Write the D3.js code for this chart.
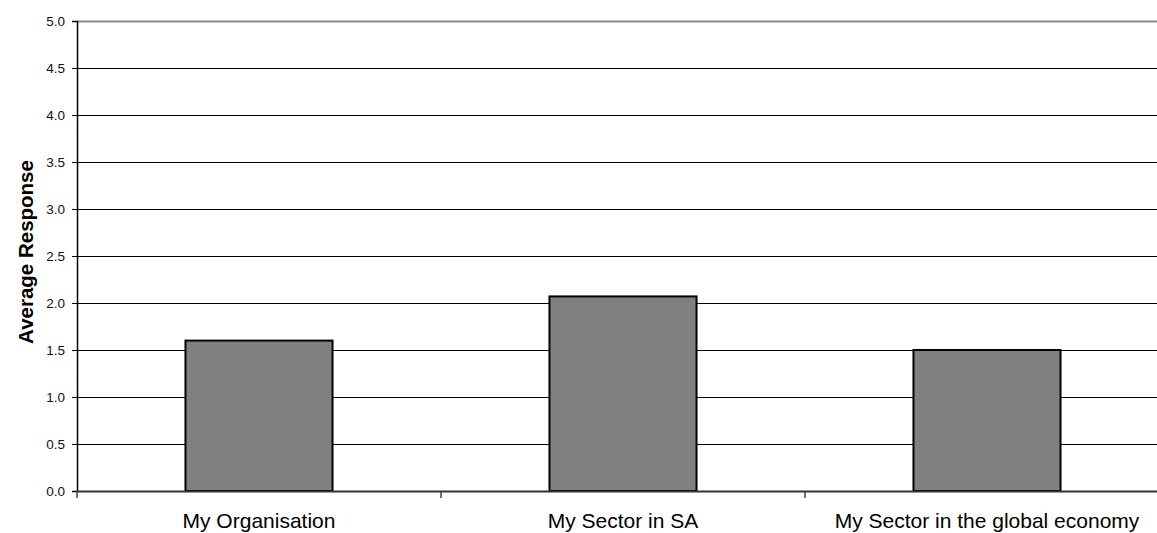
<!DOCTYPE html>
<html>
<head>
<meta charset="utf-8">
<script src="https://cdn.jsdelivr.net/npm/d3@7"></script>
<style>
  html, body { margin: 0; padding: 0; background: #fff; }
  svg { display: block; font-family: "Liberation Sans", Arial, sans-serif; }
</style>
</head>
<body>
<svg id="chart" width="1157" height="533"></svg>
<script>
// Average response per scope
const categories = ["My Organisation", "My Sector in SA", "My Sector in the global economy"];
const values = [1.6, 2.07, 1.5];
const yTicks = [0, 0.5, 1, 1.5, 2, 2.5, 3, 3.5, 4, 4.5, 5];
const yTitle = "Average Response";

const svg = d3.select("#chart");
const plotLeft = 77, plotTop = 21, plotBottom = 491, bandW = 364;
const plotRight = plotLeft + bandW * categories.length;

const x = d3.scaleBand().domain(categories).range([plotLeft, plotRight])
  .paddingInner(0.596).paddingOuter(0.298);
const y = d3.scaleLinear().domain([0, 5]).range([plotBottom, plotTop]);

// horizontal gridlines
svg.append("g").selectAll("line").data(yTicks.filter(d => d > 0 && d < 5)).join("line")
  .attr("x1", plotLeft).attr("x2", plotRight)
  .attr("y1", d => y(d) + 0.5).attr("y2", d => y(d) + 0.5)
  .attr("stroke", "#000").attr("stroke-width", 1);

// top border of plot area
svg.append("line").attr("x1", plotLeft).attr("x2", plotRight)
  .attr("y1", y(5) + 0.5).attr("y2", y(5) + 0.5)
  .attr("stroke", "#888").attr("stroke-width", 2);

// bars
svg.append("g").selectAll("rect").data(values).join("rect")
  .attr("x", (d, i) => x(categories[i]))
  .attr("y", d => y(d))
  .attr("width", x.bandwidth())
  .attr("height", d => y(0) - y(d))
  .attr("fill", "#808080")
  .attr("stroke", "#000").attr("stroke-width", 2);

// y axis
const yAxis = svg.append("g").attr("transform", `translate(${plotLeft},0)`)
  .call(d3.axisLeft(y).tickValues(yTicks).tickFormat(d3.format(".1f")).tickSize(5).tickPadding(7));
yAxis.select(".domain").attr("stroke", "#000").attr("stroke-width", 1.5);
yAxis.selectAll(".tick line").attr("stroke", "#000");
yAxis.selectAll("text").attr("font-size", 13.5).attr("fill", "#111")
  .attr("font-family", "'Liberation Sans', Arial, sans-serif");

// x axis with ticks at band boundaries
const bounds = d3.range(categories.length + 1).map(i => plotLeft + i * bandW);
svg.append("line").attr("x1", plotLeft).attr("x2", plotRight)
  .attr("y1", plotBottom + 0.5).attr("y2", plotBottom + 0.5)
  .attr("stroke", "#333").attr("stroke-width", 2);
svg.append("g").selectAll("line").data(bounds).join("line")
  .attr("x1", d => d).attr("x2", d => d)
  .attr("y1", plotBottom).attr("y2", plotBottom + 7)
  .attr("stroke", "#444").attr("stroke-width", 1.5);

svg.append("g").selectAll("text").data(categories).join("text")
  .attr("x", d => x(d) + x.bandwidth() / 2)
  .attr("y", 528)
  .attr("text-anchor", "middle")
  .attr("font-size", 21)
  .attr("fill", "#000")
  .text(d => d);

// y axis title
svg.append("text")
  .attr("transform", "translate(33,252) rotate(-90)")
  .attr("text-anchor", "middle")
  .attr("font-size", 20.5)
  .attr("font-weight", "bold")
  .attr("fill", "#000")
  .text(yTitle);
</script>
</body>
</html>
